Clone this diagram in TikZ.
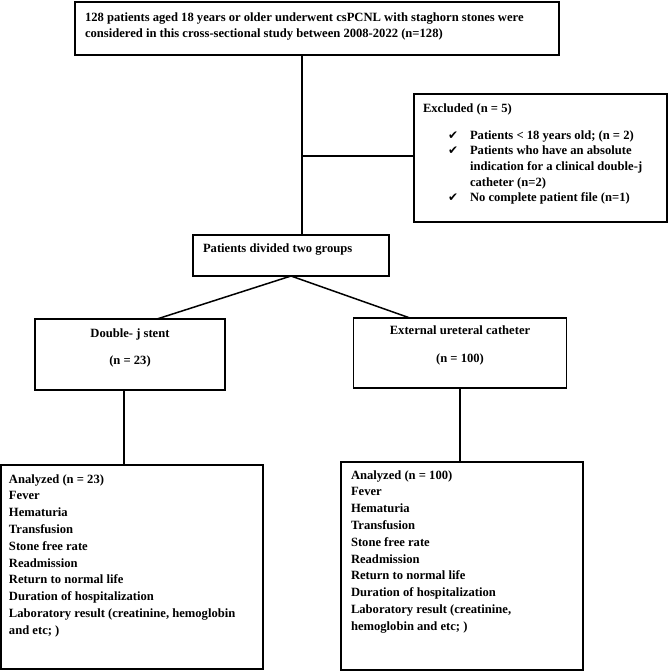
\documentclass[tikz,border=0pt]{standalone}
\usepackage{fontspec}
\setmainfont{Liberation Serif}
\newfontfamily\symfont{DejaVu Sans}
\newcommand{\bxt}[4]{\begin{minipage}[t][#2][t]{#1}\setlength{\parindent}{0pt}#3\rule{0pt}{#4}\ignorespaces}
\newcommand{\bxe}{\end{minipage}}
\newcommand{\ck}{\makebox[22pt][l]{\symfont\fontsize{12}{12}\selectfont ✔}}
\tikzset{
  box/.style={draw, line width=1.4pt, inner sep=0pt, outer sep=0pt, anchor=north west,
    font=\fontsize{12.6}{16.8}\selectfont\bfseries},
  conn/.style={line width=1.5pt}
}
\begin{document}
\begin{tikzpicture}[x=1pt,y=-1pt]
\useasboundingbox (0,0) rectangle (669,672);
\node[box] (top) at (75,2) {\bxt{484pt}{53pt}{\raggedright\leftskip=10pt}{19pt}128 patients aged 18 years or older underwent csPCNL with staghorn stones were\\
considered in this cross-sectional study between 2008-2022 (n=128)\bxe};
\node[box] (excl) at (414,94) {\bxt{253pt}{128pt}{\raggedright\leftskip=9pt\baselineskip=15.7pt}{18pt}Excluded (n = 5)\\[11.3pt]
\hspace*{25pt}\ck Patients < 18 years old; (n = 2)\\
\hspace*{25pt}\ck Patients who have an absolute\\
\hspace*{47pt}indication for a clinical double-j\\
\hspace*{47pt}catheter (n=2)\\
\hspace*{25pt}\ck No complete patient file (n=1)\bxe};
\node[box] (pd) at (193,235) {\bxt{196pt}{41pt}{\raggedright\leftskip=10pt}{17pt}Patients divided two groups\bxe};
\node[box] (dj) at (35,319) {\bxt{190pt}{71pt}{\centering}{18pt}Double- j stent\\[11pt]
(n = 23)\bxe};
\node[box] (ext) at (353.5,318) {\bxt{213pt}{70pt}{\centering}{16pt}External ureteral catheter\\[12pt]
(n = 100)\bxe};
\node[box] (an1) at (1,465) {\bxt{262pt}{204pt}{\raggedright\leftskip=8pt}{18pt}Analyzed (n = 23)\\
Fever\\
Hematuria\\
Transfusion\\
Stone free rate\\
Readmission\\
Return to normal life\\
Duration of hospitalization\\
Laboratory result (creatinine, hemoglobin\\
and etc; )\bxe};
\node[box] (an2) at (341,462) {\bxt{242pt}{208pt}{\raggedright\leftskip=10pt}{17pt}Analyzed (n = 100)\\
Fever\\
Hematuria\\
Transfusion\\
Stone free rate\\
Readmission\\
Return to normal life\\
Duration of hospitalization\\
Laboratory result (creatinine,\\
hemoglobin and etc; )\bxe};
\coordinate (j) at (302,156);
\draw[conn] (top.south -| j) -- (pd.north -| j);
\draw[conn] (j) -- (excl.west |- j);
\draw[conn] (pd.south) -- ([xshift=27pt]dj.north);
\draw[conn] (pd.south) -- ([xshift=-50pt]ext.north);
\draw[conn] ([xshift=-6pt]dj.south) -- ([xshift=-6pt]dj.south |- an1.north);
\draw[conn] (ext.south) -- (ext.south |- an2.north);
\end{tikzpicture}
\end{document}
